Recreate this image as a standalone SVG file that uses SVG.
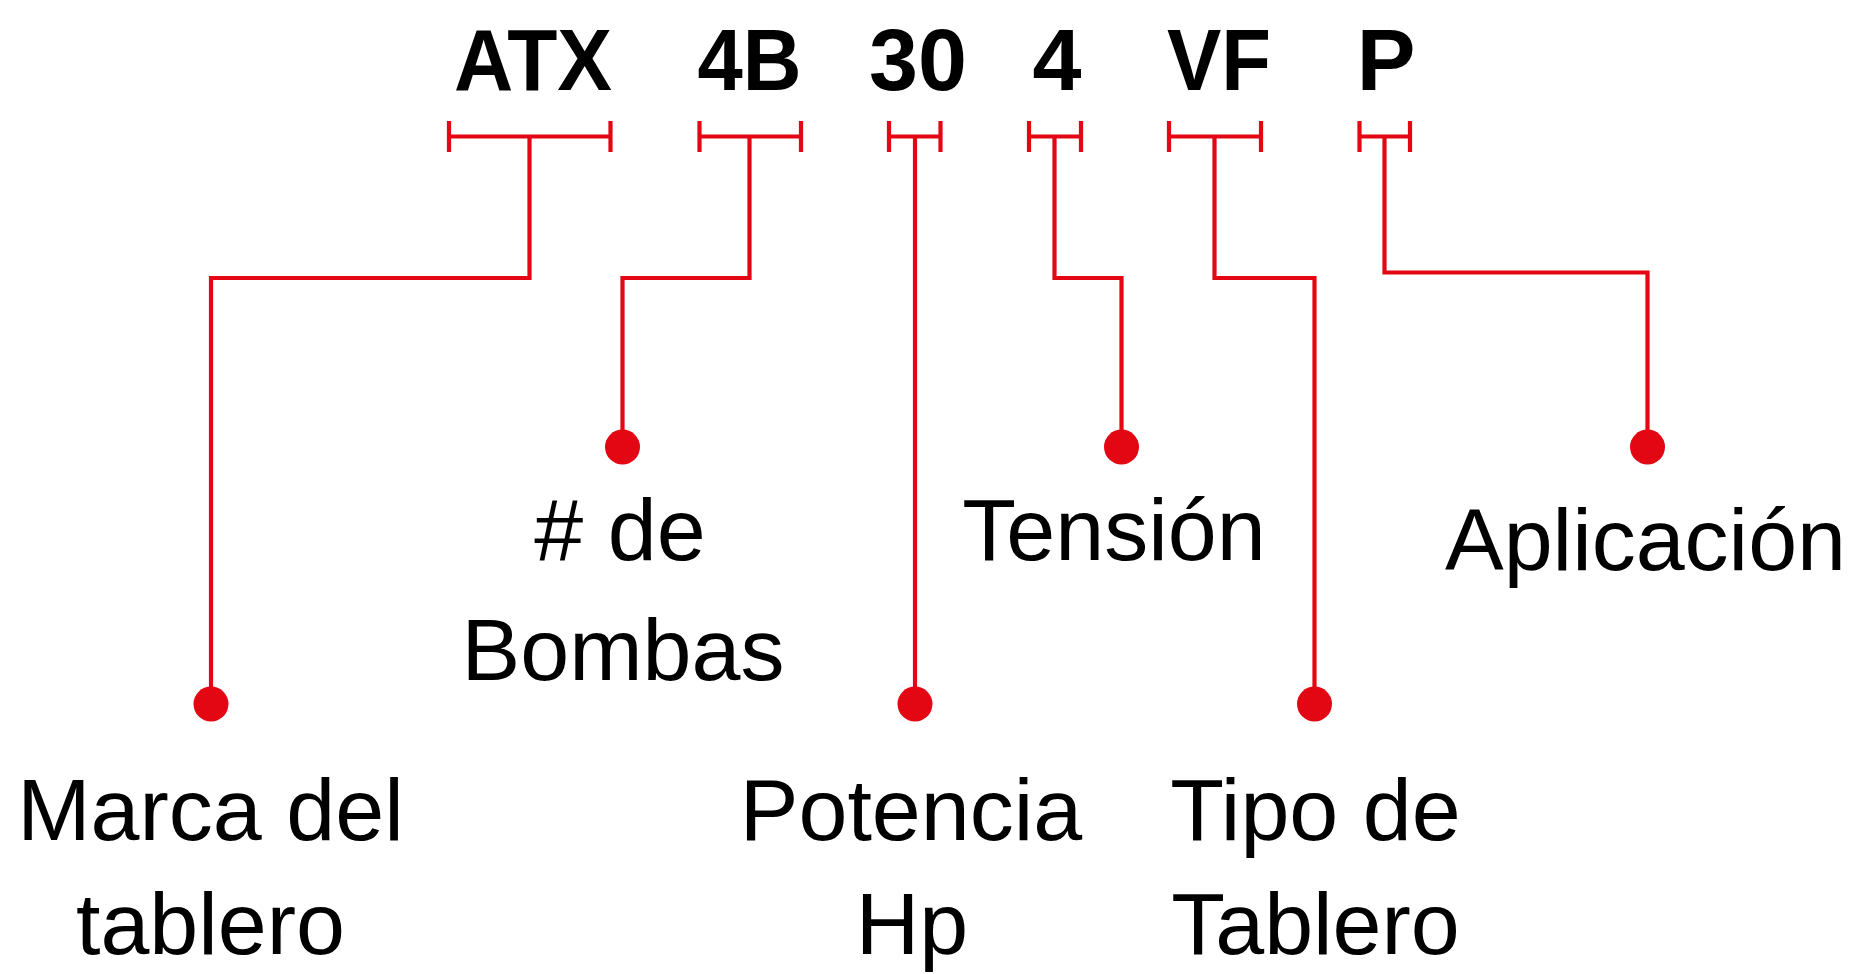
<svg xmlns="http://www.w3.org/2000/svg" width="1859" height="974" viewBox="0 0 1859 974">
<style>
.code{font-family:"Liberation Sans",Arial,sans-serif;font-weight:bold;font-size:88px;fill:#000;text-anchor:middle}
.lbl{font-family:"Liberation Sans",Arial,sans-serif;font-size:88px;fill:#000;text-anchor:middle}
.br{stroke:#e30613;stroke-width:4.2;fill:none}
.con{stroke:#e30613;stroke-width:4.2;fill:none}
.dot{fill:#e30613}
</style>
<rect width="1859" height="974" fill="#fff"/>
<g id="code-atx">
<text class="code" x="533" y="90" textLength="158" lengthAdjust="spacingAndGlyphs">ATX</text>
<path class="br" d="M449 136.5H610.5M449 121V152M610.5 121V152"/>
</g>
<g id="code-4b">
<text class="code" x="749.5" y="90" textLength="104" lengthAdjust="spacingAndGlyphs">4B</text>
<path class="br" d="M699.5 136.5H801M699.5 121V152M801 121V152"/>
</g>
<g id="code-30">
<text class="code" x="918" y="90">30</text>
<path class="br" d="M889 136.5H940.5M889 121V152M940.5 121V152"/>
</g>
<g id="code-4">
<text class="code" x="1057" y="90">4</text>
<path class="br" d="M1029 136.5H1081M1029 121V152M1081 121V152"/>
</g>
<g id="code-vf">
<text class="code" x="1219" y="90" textLength="104" lengthAdjust="spacingAndGlyphs">VF</text>
<path class="br" d="M1169 136.5H1261M1169 121V152M1261 121V152"/>
</g>
<g id="code-p">
<text class="code" x="1386" y="90">P</text>
<path class="br" d="M1359.5 136.5H1410M1359.5 121V152M1410 121V152"/>
</g>
<g id="connectors">
<path class="con" d="M529.5 136.5V278H211V700"/>
<path class="con" d="M749.5 136.5V278H622.5V443"/>
<path class="con" d="M915 136.5V700"/>
<path class="con" d="M1054.5 136.5V278H1121.5V443"/>
<path class="con" d="M1214.5 136.5V278H1314.5V700"/>
<path class="con" d="M1384.5 136.5V272.5H1647.5V443"/>
</g>
<g id="label-marca">
<circle class="dot" cx="211" cy="704" r="17.5"/>
<text class="lbl" x="210.5" y="840">Marca del</text>
<text class="lbl" x="210.5" y="954">tablero</text>
</g>
<g id="label-bombas">
<circle class="dot" cx="622.5" cy="447" r="17.5"/>
<text class="lbl" x="620" y="560"># de</text>
<text class="lbl" x="623" y="680">Bombas</text>
</g>
<g id="label-potencia">
<circle class="dot" cx="915" cy="704" r="17.5"/>
<text class="lbl" x="911" y="840">Potencia</text>
<text class="lbl" x="912" y="954">Hp</text>
</g>
<g id="label-tension">
<circle class="dot" cx="1121.5" cy="447" r="17.5"/>
<text class="lbl" x="1114" y="560">Tensión</text>
</g>
<g id="label-tipo">
<circle class="dot" cx="1314.5" cy="704" r="17.5"/>
<text class="lbl" x="1315.5" y="840">Tipo de</text>
<text class="lbl" x="1315.5" y="954">Tablero</text>
</g>
<g id="label-aplicacion">
<circle class="dot" cx="1647.5" cy="447" r="17.5"/>
<text class="lbl" x="1645.5" y="570">Aplicación</text>
</g>
</svg>
